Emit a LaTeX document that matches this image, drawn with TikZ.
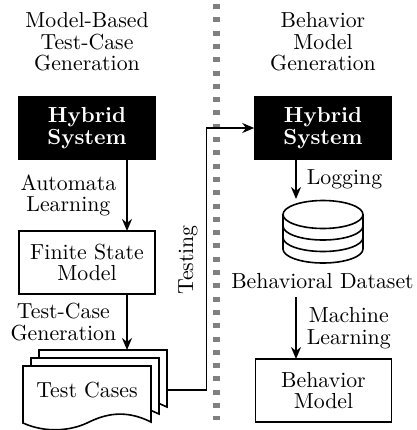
\documentclass[tikz,border=0pt]{standalone}
\usetikzlibrary{arrows.meta}
\colorlet{divider}{black!50!white}
\newcommand{\figfont}{\fontsize{10.9}{10.7}\selectfont}
\tikzset{
  box/.style={draw,line width=0.8pt,align=center,minimum width=68pt,minimum height=31.5pt,inner sep=0pt,font=\figfont},
  blackbox/.style={box,fill=black,text=white,font=\figfont\bfseries},
  label/.style={align=center,inner sep=0pt,font=\figfont},
  flow/.style={-{Stealth[length=6pt,width=5pt]},line width=0.8pt},
  page/.style={draw,line width=0.8pt,fill=white},
}

\begin{document}
\begin{tikzpicture}[x=0.5pt,y=-0.5pt]
  \useasboundingbox (0,0) rectangle (417,430);

  \draw[divider,line width=3.5pt,dash pattern=on 2.5pt off 4.15pt] (216.5,4) -- (216.5,420);

  \node[label] (left_title) at (87,42) {Model-Based\\Test-Case\\Generation};
  \node[label] (right_title) at (323,42) {Behavior\\Model\\Generation};

  \node[blackbox] (left_hybrid) at (87,128) {Hybrid\\System};
  \node[box] (fsm) at (87,262.5) {Finite State\\Model};
  \node[blackbox] (right_hybrid) at (323,128) {Hybrid\\System};
  \node[box] (behavior) at (323.5,390.5) {Behavior\\Model};

% Test cases
  \coordinate (back_n1) at (39,350);
  \coordinate (back_n2) at (167,350);
  \coordinate (back_n3) at (167,407);
  \coordinate (mid_n1) at (31,358);
  \coordinate (mid_n2) at (159,358);
  \coordinate (mid_n3) at (159,414);
  \coordinate (front_n1) at (23,366);
  \coordinate (front_n2) at (151,366);
  \coordinate (front_n3) at (151,422);
  \coordinate (front_n4) at (23,423);
  \draw[page] (back_n1) -- (back_n2) -- (back_n3) -- ++(-9,-4) -- ++(0,-10) -| cycle;
  \draw[page] (mid_n1) -- (mid_n2) -- (mid_n3) -- ++(-9,-4) -- ++(0,-10) -| cycle;
  \draw[page] (front_n1) -- (front_n2) -- (front_n3) .. controls (125,409) and (105,414) .. (87,423) .. controls (70,431) and (45,433) .. (front_n4) -- cycle;
  \node[label] (test_cases) at (87,390) {Test Cases};

% Dataset
  \coordinate (disc_c1) at (323,214.5);
  \draw[line width=0.8pt] (283,214.5) -- (283,249) arc[start angle=180,end angle=360,x radius=40,y radius=-14] -- (363,214.5);
  \draw[line width=0.8pt] (disc_c1) ellipse[x radius=40,y radius=14];
  \draw[line width=0.8pt] (283,226) arc[start angle=180,end angle=360,x radius=40,y radius=-14];
  \draw[line width=0.8pt] (283,237.5) arc[start angle=180,end angle=360,x radius=40,y radius=-14];
  \node[label] (dataset) at (322.5,281) {Behavioral Dataset};

  \coordinate (left_hybrid_out) at (127,160);
  \coordinate (fsm_in) at (127,231);
  \coordinate (fsm_out) at (127,294);
  \coordinate (doc_in) at (127,350);
  \coordinate (doc_out) at (167,390);
  \coordinate (testing_up) at (206.5,390);
  \coordinate (log_out) at (296,160);
  \coordinate (log_in) at (296,199);
  \coordinate (learn_out) at (296,297);
  \coordinate (learn_in) at (296,359);

  \draw[flow] (left_hybrid_out) -- node[label,left=5pt,pos=0.5] (automata) {Automata\\Learning} (fsm_in);
  \draw[flow] (fsm_out) -- node[label,left=5pt,pos=0.5] (generation) {Test-Case\\Generation} (doc_in);
  \draw[flow] (doc_out) -- (testing_up) |- (right_hybrid.west);
  \node[label,rotate=90] (testing) at (188,260) {Testing};
  \draw[flow] (log_out) -- node[label,right=5pt,pos=0.5] (logging) {Logging} (log_in);
  \draw[flow] (learn_out) -- node[label,right=5pt,pos=0.5] (learning) {Machine\\Learning} (learn_in);

\end{tikzpicture}
\end{document}
